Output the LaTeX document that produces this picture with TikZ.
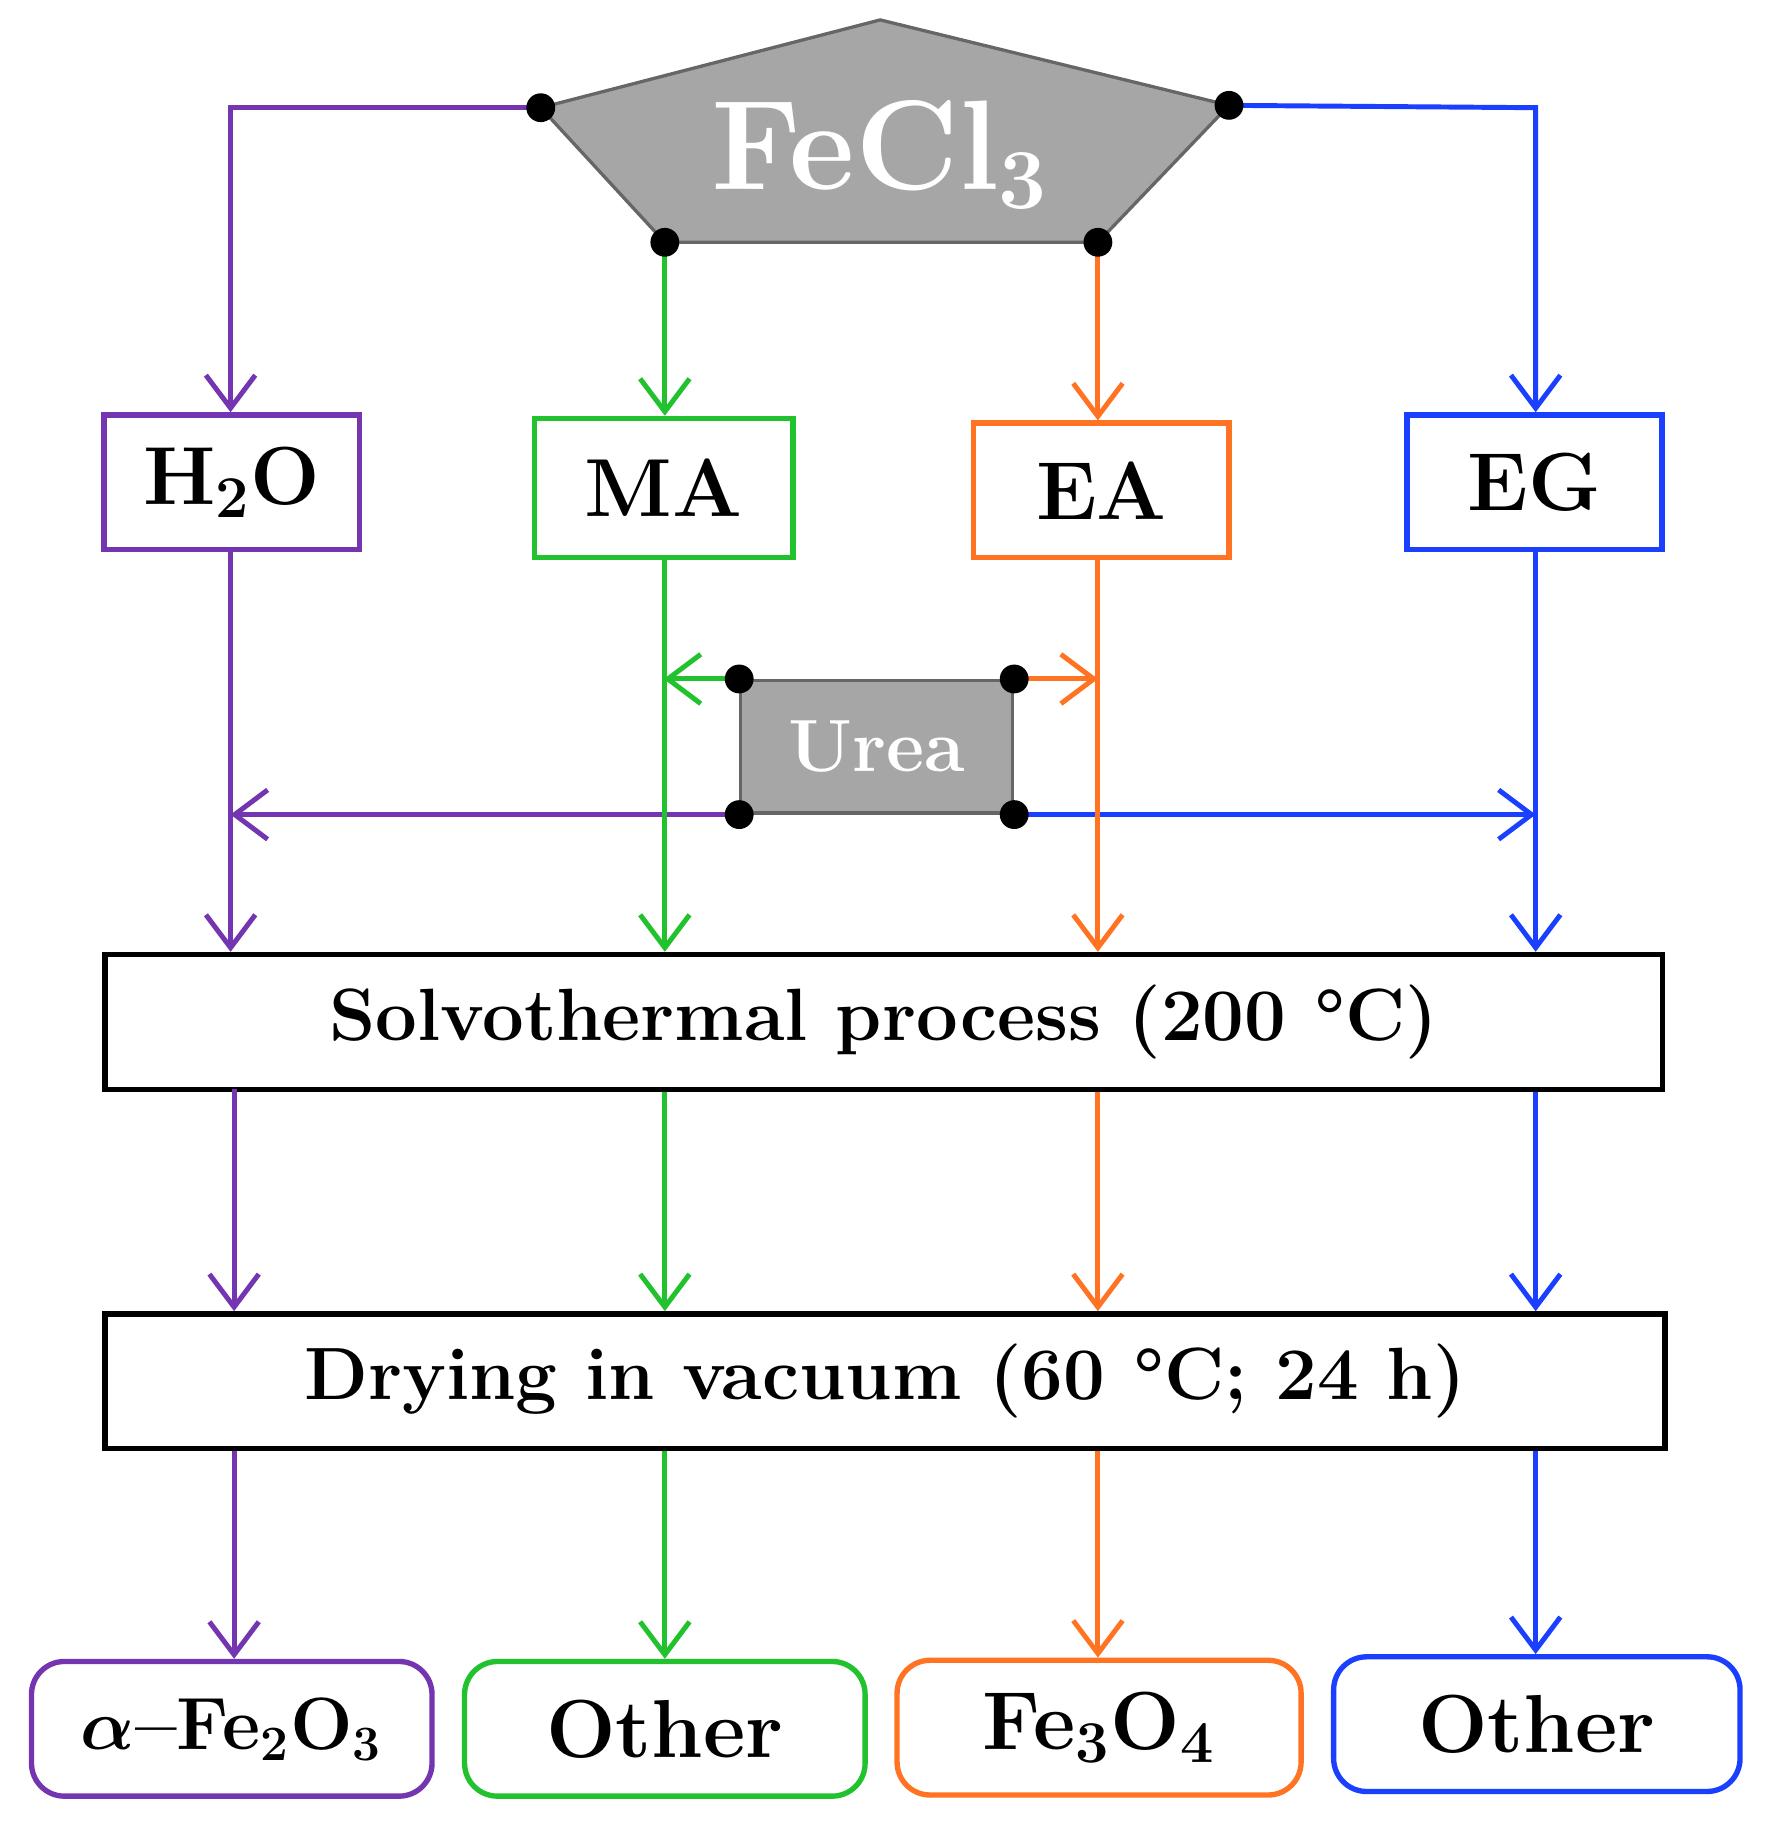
\documentclass[tikz,border=0pt]{standalone}
\usepackage{amsmath,bm}
\usetikzlibrary{arrows.meta,calc}
\definecolor{cpur}{HTML}{7435B0}
\definecolor{cgrn}{HTML}{22C12E}
\definecolor{corg}{HTML}{FF7322}
\definecolor{cblu}{HTML}{1B3FFF}
\definecolor{cgray}{HTML}{A6A6A6}
\begin{document}
\begin{tikzpicture}[x=0.01cm,y=-0.01cm,
  conn/.style={line width=1.2pt},
  arr/.style={conn,-{Straight Barb[length=8pt,width=12pt,line width=1.2pt]}},
  dotc/.style={circle,fill=black,inner sep=0pt,minimum size=7pt},
  lbox/.style={draw,line width=1.3pt,minimum width=2.18cm,minimum height=1.15cm,font=\bfseries\fontsize{20}{24}\selectfont,inner sep=0pt},
  wbox/.style={draw=black,line width=1.3pt,minimum width=13.3cm,minimum height=1.15cm,font=\bfseries\fontsize{18}{22}\selectfont},
  rbox/.style={draw,line width=1.3pt,rounded corners=8pt,minimum width=3.42cm,minimum height=1.15cm,font=\bfseries\fontsize{20}{24}\selectfont,inner sep=0pt}]
\useasboundingbox (0,0) rectangle (1520,1572);
% FeCl3 pentagon
\coordinate (pt) at (752,17);
\coordinate (pl) at (462,92);
\coordinate (pr) at (1050,90);
\coordinate (pbl) at (568,207);
\coordinate (pbr) at (938,207);
\fill[cgray,draw=gray!80!black,line width=0.8pt] (pt)--(pr)--(pbr)--(pbl)--(pl)--cycle;
\node[text=white,font=\bfseries\fontsize{31}{34}\selectfont] (fecl) at (752,132) {FeCl$_\mathbf{3}$};
% boxes
\node[lbox,draw=cpur] (h2o) at (198,412) {H$_\mathbf{2}$O};
\node[lbox,draw=cgrn,minimum width=2.21cm,minimum height=1.19cm] (ma) at (567,417) {MA};
\node[lbox,draw=corg,minimum height=1.15cm] (ea) at (941,419) {EA};
\node[lbox,draw=cblu] (eg) at (1311,412) {EG};
\node[draw=gray!80!black,fill=cgray,line width=0.8pt,minimum width=2.32cm,minimum height=1.13cm,text=white,font=\bfseries\fontsize{18}{20}\selectfont] (urea) at (749,638) {Urea};
\node[wbox] (solv) at (755,873) {Solvothermal process (200 \textdegree C)};
\node[wbox,minimum width=13.32cm] (dry) at (756,1180) {Drying in vacuum (60 \textdegree C; 24 h)};
\node[rbox,draw=cpur,font=\bfseries\fontsize{18}{22}\selectfont] (p1) at (198,1477) {$\bm{\alpha}$--Fe$_\mathbf{2}$O$_\mathbf{3}$};
\node[rbox,draw=cgrn] (p2) at (568,1477) {Other};
\node[rbox,draw=corg,minimum width=3.45cm] (p3) at (939,1476) {Fe$_\mathbf{3}$O$_\mathbf{4}$};
\node[rbox,draw=cblu,minimum width=3.47cm] (p4) at (1313,1473) {Other};
% top connectors
\coordinate (tl) at (197,92);
\coordinate (tr) at (1312,92);
\draw[arr,cpur] (pl) -- (tl) -- (tl |- h2o.north);
\draw[arr,cblu] (pr) -- (tr) -- (tr |- eg.north);
\draw[arr,cgrn] (pbl) -- (pbl |- ma.north);
\draw[arr,corg] (pbr) -- (pbr |- ea.north);
% urea connectors
\draw[arr,cgrn] (urea.north west) -- (urea.north west -| ma);
\draw[arr,corg] (urea.north east) -- ($(urea.north east -| pbr)$);
\draw[arr,cpur] (urea.south west) -- (urea.south west -| tl);
\draw[arr,cblu] (urea.south east) -- (urea.south east -| tr);
% to solvothermal
\draw[arr,cpur] (tl |- h2o.south) -- (tl |- solv.north);
\draw[arr,cgrn] (pbl |- ma.south) -- (pbl |- solv.north);
\draw[arr,corg] (pbr |- ea.south) -- (pbr |- solv.north);
\draw[arr,cblu] (tr |- eg.south) -- (tr |- solv.north);
% to drying
\draw[arr,cpur] (200,930) coordinate (a1) -- (a1 |- dry.north);
\draw[arr,cgrn] (pbl |- solv.south) -- (pbl |- dry.north);
\draw[arr,corg] (pbr |- solv.south) -- (pbr |- dry.north);
\draw[arr,cblu] (tr |- solv.south) -- (tr |- dry.north);
% to products
\draw[arr,cpur] (a1 |- dry.south) -- (a1 |- p1.north);
\draw[arr,cgrn] (pbl |- dry.south) -- (pbl |- p2.north);
\draw[arr,corg] (pbr |- dry.south) -- (pbr |- p3.north);
\draw[arr,cblu] (tr |- dry.south) -- (tr |- p4.north);
% dots
\foreach \c in {pl,pr,pbl,pbr} \node[dotc] at (\c) {};
\foreach \a in {north west,north east,south west,south east} \node[dotc] at (urea.\a) {};
\end{tikzpicture}
\end{document}
